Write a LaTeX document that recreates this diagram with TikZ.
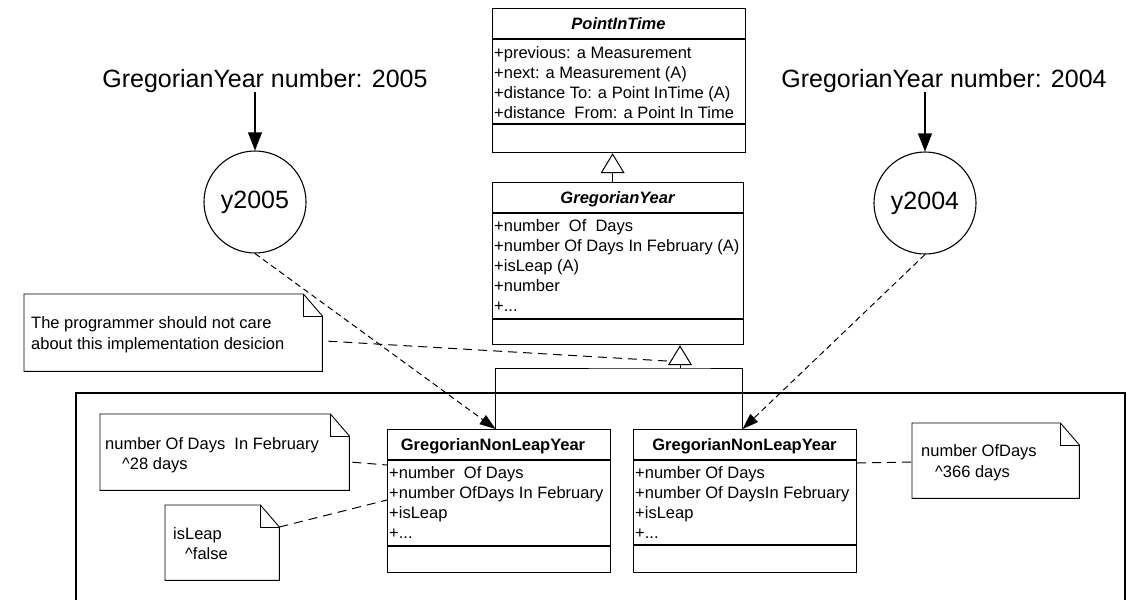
\documentclass[tikz,border=0pt]{standalone}
\usepackage{fontspec}
\setmainfont{Liberation Sans}
\usetikzlibrary{arrows.meta,calc}

% UML note outline with a folded top-right corner
\newcommand\notefold[1]{%
  \draw[noteline] (#1.north west) -- ([xshift=-19pt]#1.north east)
    -- ([yshift=-22pt]#1.north east) -- (#1.south east) -- (#1.south west) -- cycle;
  \draw[noteline] ([xshift=-19pt]#1.north east) |- ([yshift=-22pt]#1.north east);}

\begin{document}
\begin{tikzpicture}[x=1pt,y=-1pt,
  cls/.style={draw, line width=1.2pt, inner sep=0pt, anchor=north west},
  sep/.style={line width=1.2pt},
  notebox/.style={inner sep=0pt, anchor=north west},
  noteline/.style={line width=0.9pt},
  txt/.style={anchor=base west, inner sep=0pt, font=\fontsize{16.5}{20}\selectfont},
  ttl/.style={anchor=base, inner sep=0pt, font=\fontsize{16.5}{20}\selectfont\bfseries},
  big/.style={anchor=base, inner sep=0pt, font=\fontsize{25}{30}\selectfont},
  obj/.style={circle, draw, line width=1.1pt, minimum size=102pt, inner sep=0pt,
              font=\fontsize{25}{30}\selectfont},
  link/.style={line width=1.1pt, -{Triangle[length=18pt,width=14pt]}},
  depend/.style={line width=1pt, dash pattern=on 6pt off 4pt,
                 -{Triangle[length=16pt,width=11pt]}},
  anchorline/.style={line width=1pt, dash pattern=on 9pt off 6pt},
  inherit/.style={line width=1pt, -{Triangle[open,length=20pt,width=24pt]}},
  frameline/.style={line width=1.1pt},
]
\useasboundingbox (0,0) rectangle (1127,600);

% ---------- abstract class PointInTime ----------
\node[cls, minimum width=253pt, minimum height=144pt] (pit) at (492,8) {};
\draw[sep] (pit.west |- 0,39) -- (pit.east |- 0,39);
\draw[sep] (pit.west |- 0,124) -- (pit.east |- 0,124);
\node[ttl] (pitT) at (618.5,29.5) {\itshape PointInTime};
\node[txt] (pitA1) at (494,58)  {+previous: a Measurement};
\node[txt] (pitA2) at (494,78)  {+next: a Measurement (A)};
\node[txt] (pitA3) at (494,98)  {+distance To: a Point InTime (A)};
\node[txt] (pitA4) at (494,118) {+distance \ From: a Point In Time};

% ---------- abstract class GregorianYear ----------
\node[cls, minimum width=251pt, minimum height=162pt] (gy) at (492,182) {};
\draw[sep] (gy.west |- 0,213) -- (gy.east |- 0,213);
\draw[sep] (gy.west |- 0,319) -- (gy.east |- 0,319);
\node[ttl] (gyT) at (617.5,203.5) {\itshape GregorianYear};
\node[txt] (gyA1) at (494,231) {+number \ Of \ Days};
\node[txt] (gyA2) at (494,251) {+number Of Days In February (A)};
\node[txt] (gyA3) at (494,271) {+isLeap (A)};
\node[txt] (gyA4) at (494,291) {+number};
\node[txt] (gyA5) at (494,311) {+...};

\draw[inherit] ([xshift=-5.5pt]gy.north) -- ([xshift=-6.5pt]pit.south);

% ---------- concrete classes ----------
\node[cls, minimum width=223pt, minimum height=143pt] (nly1) at (387,429) {};
\draw[sep] (nly1.west |- 0,460) -- (nly1.east |- 0,460);
\draw[sep] (nly1.west |- 0,546) -- (nly1.east |- 0,546);
\node[ttl] (nly1T) at (493,450.5) {GregorianNonLeapYear};
\node[txt] (nly1A1) at (389,478) {+number \ Of Days};
\node[txt] (nly1A2) at (389,498) {+number OfDays In February};
\node[txt] (nly1A3) at (389,518) {+isLeap};
\node[txt] (nly1A4) at (389,538) {+...};

\node[cls, minimum width=223pt, minimum height=143pt] (nly2) at (633,429) {};
\draw[sep] (nly2.west |- 0,460) -- (nly2.east |- 0,460);
\draw[sep] (nly2.west |- 0,545) -- (nly2.east |- 0,545);
\node[ttl] (nly2T) at (744.5,450.5) {GregorianNonLeapYear};
\node[txt] (nly2A1) at (635,478) {+number Of Days};
\node[txt] (nly2A2) at (635,498) {+number Of DaysIn February};
\node[txt] (nly2A3) at (635,518) {+isLeap};
\node[txt] (nly2A4) at (635,538) {+...};

% generalization tree
\coordinate (joint) at (680,368);
\draw[line width=1pt] ([xshift=-3.5pt]nly1.north) |- (joint) -| ([xshift=-2.5pt]nly2.north);
\draw[inherit] (joint) -- (joint |- gy.south);
\coordinate (trileft) at ($(joint |- gy.south)+(-9.6,16)$);

% ---------- enclosing frame ----------
\coordinate (frameTL) at (76,393);
\coordinate (frameTR) at (1125,393);
\draw[frameline] (frameTL |- 0,600) -- (frameTL) -- (frameTR) -- (frameTR |- 0,600);

% ---------- objects ----------
\node[obj] (y2005) at (255,202) {y2005};
\node[obj] (y2004) at (925,203) {y2004};
\node[big] (lbl2005) at (265,87) {GregorianYear number: 2005};
\node[big] (lbl2004) at (944,87) {GregorianYear number: 2004};
\draw[link] (lbl2005.south -| y2005) -- (y2005);
\draw[link] (lbl2004.south -| y2004) -- (y2004);

\draw[depend] (y2005.south) -- ([xshift=-3.5pt]nly1.north);
\draw[depend] (y2004.south) -- ([xshift=-2.5pt]nly2.north);

% ---------- notes ----------
\node[notebox, minimum width=298pt, minimum height=77pt] (note1) at (24,294) {};
\notefold{note1}
\node[txt] (note1a) at (31,328) {The programmer should not care};
\node[txt] (note1b) at (31,349) {about this implementation desicion};
\draw[anchorline] ([xshift=6pt,yshift=-8.5pt]note1.east) -- (trileft);

\node[notebox, minimum width=249pt, minimum height=76pt] (note2) at (100,414) {};
\notefold{note2}
\node[txt] (note2a) at (105,449) {number Of Days \ In February};
\node[txt] (note2b) at (122,469) {\textasciicircum 28 days};
\draw[anchorline] ([xshift=3pt,yshift=-10pt]note2.east) -- ([yshift=-36pt]nly1.north west);

\node[notebox, minimum width=114pt, minimum height=75pt] (note3) at (165,505) {};
\notefold{note3}
\node[txt] (note3a) at (173,539) {isLeap};
\node[txt] (note3b) at (185,559) {\textasciicircum false};
\draw[anchorline] ([yshift=-22pt]note3.north east) -- ([yshift=-71pt]nly1.north west);

\node[notebox, minimum width=167pt, minimum height=75pt] (note4) at (912,423) {};
\notefold{note4}
\node[txt] (note4a) at (921,456) {number OfDays};
\node[txt] (note4b) at (935,477) {\textasciicircum 366 days};
\draw[anchorline] ([yshift=-34pt]nly2.north east) -- ([yshift=-39pt]note4.north west);

\end{tikzpicture}
\end{document}
